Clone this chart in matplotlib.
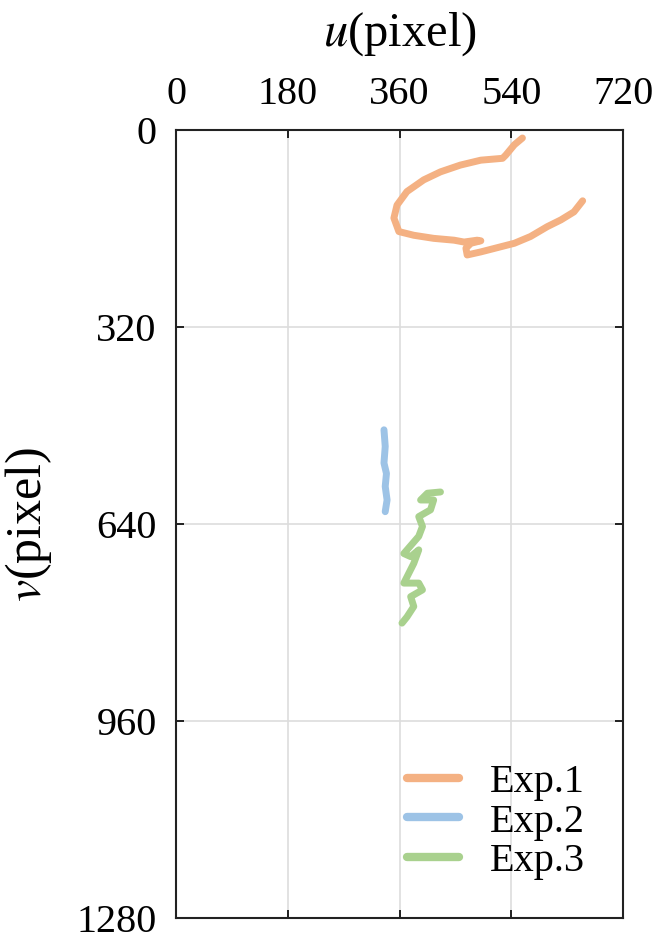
import matplotlib
matplotlib.use("Agg")
import matplotlib.pyplot as plt

plt.rcParams['font.family'] = ['Liberation Serif', 'DejaVu Serif']
plt.rcParams['mathtext.fontset'] = 'stix'

# trajectories (u, v in pixels)
u1 = [558, 545, 531, 526, 491, 458, 426, 399, 372, 356, 351, 359, 383, 415, 448, 464,
      485, 491, 475, 467, 469, 491, 518, 545, 571, 598, 620, 641, 655]
v1 = [13, 24, 41, 46, 49, 57, 68, 81, 100, 122, 143, 165, 171, 176, 179, 182,
      179, 180, 184, 192, 203, 198, 191, 184, 173, 157, 146, 133, 115]

u2 = [335, 337, 335, 339, 337, 340, 337]
v2 = [487, 514, 541, 558, 579, 601, 620]

u3 = [426, 405, 394, 415, 410, 391, 397, 391, 367, 378, 391, 383, 372, 367, 391, 397,
      378, 383, 372, 364]
v3 = [588, 590, 601, 601, 617, 628, 644, 660, 688, 693, 682, 704, 726, 736, 736, 747,
      758, 774, 791, 801]

labels = ['Exp.1', 'Exp.2', 'Exp.3']
colors = ['#F4B183', '#9DC3E6', '#A9D18E']

fig = plt.figure(figsize=(6.64, 9.46), dpi=100)
ax = fig.add_axes([176/664, 1-918/946, 447/664, 788/946])

for u, v, lab, c in zip([u1, u2, u3], [v1, v2, v3], labels, colors):
    ax.plot(u, v, color=c, lw=5, solid_capstyle='round', solid_joinstyle='round', label=lab)

ax.set_xlim(0, 720)
ax.set_ylim(1280, 0)
ax.set_xticks([0, 180, 360, 540, 720])
ax.set_yticks([0, 320, 640, 960, 1280])
ax.xaxis.tick_top()
ax.xaxis.set_label_position('top')
ax.tick_params(direction='in', top=True, bottom=True, left=True, right=True,
               labeltop=True, labelbottom=False, labelsize=29, length=6, width=1.2)
ax.tick_params(axis='x', pad=12)
ax.tick_params(axis='y', pad=14)
ax.grid(True, color='#dddddd', lw=1.2)
for s in ax.spines.values():
    s.set_linewidth(1.5)
    s.set_color('#222222')

ax.set_xlabel('$u$(pixel)', fontsize=35, labelpad=22)
ax.set_ylabel('$v$(pixel)', fontsize=36, labelpad=16)

ax.legend(loc='lower right', frameon=False, fontsize=29, handlelength=1.3,
          handletextpad=0.75, labelspacing=0.05, borderaxespad=0.55)
for line in ax.get_legend().get_lines():
    line.set_linewidth(6)

fig.savefig('out.png', dpi=100)
